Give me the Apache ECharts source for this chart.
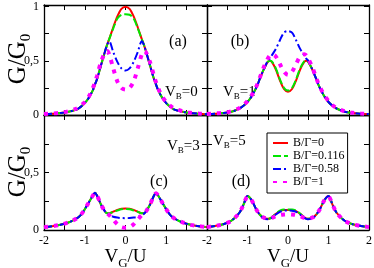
<!DOCTYPE html>
<html><head><meta charset="utf-8">
<script src="https://cdn.jsdelivr.net/npm/echarts@6/dist/echarts.min.js"></script>
<style>html,body{margin:0;padding:0;background:#fff}#c{width:374px;height:268px}</style>
</head><body><div id="c"></div>
<script>
// Gate voltage grid V_G/U
const V = [-2,-1.8,-1.6,-1.4,-1.2,-1.1,-1,-0.9,-0.8,-0.75,-0.7,-0.6,-0.5,-0.45,-0.4,-0.3,-0.2,-0.1,0,0.1,0.2,0.3,0.4,0.45,0.5,0.6,0.7,0.75,0.8,0.9,1,1.1,1.2,1.4,1.6,1.8,2];

// Panel (a) V_B=0
const redA   = [0.008,0.012,0.018,0.03,0.05,0.075,0.11,0.16,0.23,0.28,0.33,0.46,0.59,0.65,0.7,0.81,0.91,0.98,1.0,0.98,0.91,0.81,0.7,0.65,0.59,0.46,0.33,0.28,0.23,0.16,0.11,0.075,0.05,0.03,0.018,0.012,0.008];
const greenA = [0.008,0.012,0.018,0.03,0.05,0.075,0.11,0.16,0.23,0.28,0.33,0.46,0.59,0.65,0.7,0.8,0.89,0.925,0.93,0.925,0.89,0.8,0.7,0.65,0.59,0.46,0.33,0.28,0.23,0.16,0.11,0.075,0.05,0.03,0.018,0.012,0.008];
const blueA  = [0.008,0.012,0.018,0.03,0.05,0.075,0.11,0.16,0.23,0.28,0.33,0.46,0.59,0.65,0.68,0.58,0.49,0.43,0.41,0.43,0.49,0.58,0.68,0.65,0.59,0.46,0.33,0.28,0.23,0.16,0.11,0.075,0.05,0.03,0.018,0.012,0.008];
const magA   = [0.01,0.014,0.02,0.035,0.06,0.085,0.12,0.17,0.25,0.3,0.36,0.49,0.58,0.59,0.56,0.43,0.31,0.25,0.235,0.25,0.31,0.43,0.56,0.59,0.58,0.49,0.36,0.3,0.25,0.17,0.12,0.085,0.06,0.035,0.02,0.014,0.01];

// Panel (b) V_B=1
const redB   = [0.008,0.012,0.018,0.03,0.06,0.085,0.12,0.17,0.24,0.28,0.33,0.42,0.49,0.5,0.49,0.42,0.32,0.24,0.215,0.24,0.32,0.42,0.49,0.5,0.49,0.42,0.33,0.28,0.24,0.17,0.12,0.085,0.06,0.03,0.018,0.012,0.008];
const greenB = [0.008,0.012,0.018,0.03,0.06,0.085,0.12,0.17,0.24,0.28,0.33,0.42,0.49,0.5,0.495,0.43,0.33,0.25,0.225,0.25,0.33,0.43,0.495,0.5,0.49,0.42,0.33,0.28,0.24,0.17,0.12,0.085,0.06,0.03,0.018,0.012,0.008];
const blueB  = [0.008,0.012,0.018,0.03,0.06,0.085,0.12,0.17,0.24,0.28,0.33,0.42,0.5,0.52,0.55,0.61,0.69,0.76,0.775,0.76,0.69,0.61,0.55,0.52,0.5,0.42,0.33,0.28,0.24,0.17,0.12,0.085,0.06,0.03,0.018,0.012,0.008];
const magB   = [0.01,0.014,0.02,0.035,0.065,0.09,0.13,0.18,0.25,0.29,0.34,0.44,0.52,0.55,0.56,0.54,0.47,0.4,0.37,0.4,0.47,0.54,0.56,0.55,0.52,0.44,0.34,0.29,0.25,0.18,0.13,0.09,0.065,0.035,0.02,0.014,0.01];

// Panel (c) V_B=3
const redC   = [0.025,0.033,0.045,0.065,0.1,0.13,0.18,0.24,0.3,0.325,0.3,0.22,0.16,0.145,0.145,0.16,0.175,0.185,0.187,0.185,0.175,0.16,0.145,0.145,0.16,0.22,0.3,0.325,0.3,0.24,0.18,0.13,0.1,0.065,0.045,0.033,0.025];
const greenC = [0.025,0.033,0.045,0.065,0.1,0.13,0.18,0.24,0.3,0.325,0.3,0.22,0.16,0.145,0.145,0.158,0.17,0.18,0.182,0.18,0.17,0.158,0.145,0.145,0.16,0.22,0.3,0.325,0.3,0.24,0.18,0.13,0.1,0.065,0.045,0.033,0.025];
const blueC  = [0.025,0.033,0.045,0.065,0.1,0.13,0.18,0.24,0.3,0.325,0.3,0.22,0.16,0.14,0.13,0.115,0.108,0.104,0.103,0.104,0.108,0.115,0.13,0.14,0.16,0.22,0.3,0.325,0.3,0.24,0.18,0.13,0.1,0.065,0.045,0.033,0.025];
const magC   = [0.025,0.033,0.045,0.067,0.1,0.13,0.18,0.24,0.3,0.32,0.3,0.22,0.16,0.145,0.13,0.09,0.05,0.025,0.02,0.025,0.05,0.09,0.13,0.145,0.16,0.22,0.3,0.32,0.3,0.24,0.18,0.13,0.1,0.067,0.045,0.033,0.025];

// Panel (d) V_B=5
const redD   = [0.025,0.035,0.05,0.08,0.15,0.22,0.295,0.26,0.19,0.16,0.135,0.105,0.097,0.1,0.11,0.14,0.165,0.175,0.175,0.175,0.165,0.14,0.11,0.1,0.097,0.105,0.135,0.16,0.19,0.26,0.295,0.22,0.15,0.08,0.05,0.035,0.025];
const greenD = [0.025,0.035,0.05,0.08,0.15,0.22,0.295,0.26,0.19,0.16,0.135,0.105,0.098,0.1,0.112,0.143,0.168,0.178,0.178,0.178,0.168,0.143,0.112,0.1,0.098,0.105,0.135,0.16,0.19,0.26,0.295,0.22,0.15,0.08,0.05,0.035,0.025];
const blueD  = [0.025,0.035,0.05,0.08,0.15,0.22,0.295,0.26,0.19,0.16,0.133,0.1,0.093,0.097,0.105,0.135,0.158,0.168,0.17,0.168,0.158,0.135,0.105,0.097,0.093,0.1,0.133,0.16,0.19,0.26,0.295,0.22,0.15,0.08,0.05,0.035,0.025];
const magD   = [0.025,0.035,0.05,0.08,0.15,0.22,0.29,0.26,0.19,0.16,0.135,0.108,0.1,0.1,0.105,0.12,0.13,0.135,0.137,0.135,0.13,0.12,0.105,0.1,0.1,0.108,0.135,0.16,0.19,0.26,0.29,0.22,0.15,0.08,0.05,0.035,0.025];

const legendNames = ['B/Γ=0','B/Γ=0.116','B/Γ=0.58','B/Γ=1'];
const panelLabels = ['(a)','(b)','(c)','(d)'];
const vbValues = ['0','1','3','5'];
const xLabelsLeft = [-2,-1,0,1];
const xLabelsRight = [-2,-1,0,1,2];
const yLabelsTop = [0,0.5,1];
const yLabelsBottom = [0,0.5];

const panels = [[redA,greenA,blueA,magA],[redB,greenB,blueB,magB],[redC,greenC,blueC,magC],[redD,greenD,blueD,magD]];

const FONT = '"Liberation Serif","Times New Roman",serif';
const styles = [
  {color:'#ff0000', width:2, type:'solid'},
  {color:'#00e600', width:2, type:[8,3]},
  {color:'#0000ff', width:2, type:[8,3,2,3]},
  {color:'#ff00ff', width:4, type:[4,6]}
];

const grids = [
  {left:44, top:5, width:163, height:110, outerBoundsMode:'none', containLabel:false},
  {left:207, top:5, width:162, height:110, outerBoundsMode:'none', containLabel:false},
  {left:44, top:115, width:163, height:115, outerBoundsMode:'none', containLabel:false},
  {left:207, top:115, width:162, height:115, outerBoundsMode:'none', containLabel:false}
];

function fmt(list){
  return function(v){ return list.some(t=>Math.abs(t-v)<1e-9) ? String(v).replace('.',',') : ''; };
}
const lineSt = {color:'#000', width:1.3};
const xAxes = [], yAxes = [];
grids.forEach((g,gi)=>{
  const bottomRow = gi>=2;
  xAxes.push({
    type:'value', gridIndex:gi, min:-2, max:2, interval:0.5, position:'bottom',
    axisLine:{onZero:false, lineStyle:lineSt},
    axisTick:{inside:true, length:5, lineStyle:{color:'#000', width:1}},
    splitLine:{show:false},
    axisLabel:{show:bottomRow, formatter: fmt(gi===2?xLabelsLeft:xLabelsRight), color:'#000', fontSize:12, fontFamily:FONT, margin:5},
    name: bottomRow ? '{v|V}{s|G}{v|/U}' : '',
    nameLocation:'middle', nameGap:14,
    nameTextStyle:{color:'#000', fontFamily:FONT, rich:{v:{fontSize:19, fontFamily:FONT, color:'#000'}, s:{fontSize:13, fontFamily:FONT, color:'#000', padding:[12,0,0,0]}}}
  });
  xAxes.push({
    type:'value', gridIndex:gi, min:-2, max:2, interval:0.5, position:'top',
    axisLine:{onZero:false, lineStyle:lineSt},
    axisTick:{inside:true, length:5, lineStyle:{color:'#000', width:1}},
    splitLine:{show:false}, axisLabel:{show:false}
  });
  const leftCol = gi%2===0;
  const ymax = gi<2 ? 1.015 : 1;
  yAxes.push({
    type:'value', gridIndex:gi, min:0, max:ymax, interval:0.25, position:'left',
    axisLine:{onZero:false, lineStyle:lineSt},
    axisTick:{inside:true, length:5, lineStyle:{color:'#000', width:1}},
    splitLine:{show:false},
    axisLabel:{show:leftCol, formatter: fmt(gi<2?yLabelsTop:yLabelsBottom), color:'#000', fontSize:12, fontFamily:FONT, margin:5}
  });
  yAxes.push({
    type:'value', gridIndex:gi, min:0, max:ymax, interval:0.25, position:'right',
    axisLine:{onZero:false, lineStyle:lineSt},
    axisTick:{inside:true, length:5, lineStyle:{color:'#000', width:1}},
    splitLine:{show:false}, axisLabel:{show:false}
  });
});

const series = [];
panels.forEach((arrs,gi)=>{
  arrs.forEach((arr,si)=>{
    series.push({
      type:'line', name:legendNames[si], xAxisIndex:2*gi, yAxisIndex:2*gi,
      data: V.map((v,i)=>[v, arr[i]]),
      symbol:'none', smooth:0.3, clip:true, z:2+si,
      lineStyle:{color:styles[si].color, width:styles[si].width, type:styles[si].type, cap:'butt'},
      itemStyle:{color:styles[si].color}
    });
  });
});

const panelPos = [[178,42],[240,42],[159,182],[241,182]];
const vbPos = [[165,92],[223,92],[167,146],[213,141]];
const yTitlePos = [[18,59],[18,172]];
const graphic = [];
panelLabels.forEach((t,i)=>{
  graphic.push({type:'text', x:panelPos[i][0], y:panelPos[i][1], style:{text:t, fontSize:16, fontFamily:FONT, fill:'#000', align:'center', verticalAlign:'middle', textAlign:'center', textVerticalAlign:'middle'}});
});
vbValues.forEach((t,i)=>{
  graphic.push({type:'text', x:vbPos[i][0], y:vbPos[i][1], style:{
    text:'{v|V}{s|B}{v|='+t+'}',
    rich:{v:{fontSize:15, fontFamily:FONT, fill:'#000'}, s:{fontSize:9, fontFamily:FONT, fill:'#000', padding:[10,0,0,0]}},
    align:'left', verticalAlign:'middle', textAlign:'left', textVerticalAlign:'middle'}});
});
yTitlePos.forEach(p=>{
  graphic.push({type:'text', x:p[0], y:p[1], rotation:Math.PI/2, style:{
    text:'{m|G/G}{s|0}',
    rich:{m:{fontSize:25, fontFamily:FONT, fill:'#000'}, s:{fontSize:15, fontFamily:FONT, fill:'#000', padding:[16,0,0,0]}},
    align:'center', verticalAlign:'middle', textAlign:'center', textVerticalAlign:'middle'}});
});

const chart = echarts.init(document.getElementById('c'), null, {renderer:'canvas'});
chart.setOption({
  animation:false,
  backgroundColor:'#fff',
  grid:grids,
  xAxis:xAxes,
  yAxis:yAxes,
  legend:{
    data:legendNames, orient:'vertical', left:267, top:133,
    itemWidth:15, itemHeight:9, itemGap:1,
    itemStyle:{opacity:0},
    borderColor:'#000', borderWidth:1, padding:[4,3,5,5],
    textStyle:{fontSize:12, fontFamily:FONT, color:'#000', lineHeight:10},
    backgroundColor:'#fff'
  },
  graphic:graphic,
  series:series
});
</script>
</body></html>
